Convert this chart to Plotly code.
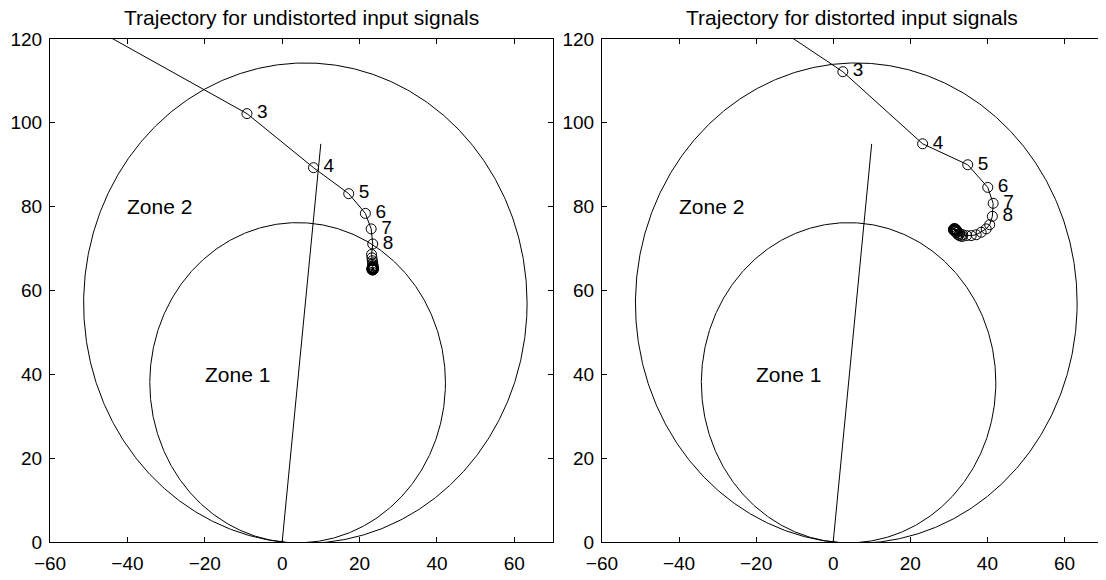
import numpy as np
import plotly.graph_objects as go

# ---------------- data ----------------
titles = ["Trajectory for undistorted input signals", "Trajectory for distorted input signals"]

# protected line impedance (magnitude, angle in degrees) and zone reach factors
line_mag = 95.5
line_ang_deg = 84.0
zone_reach = [0.8, 1.2]
zone_names = ["Zone 1", "Zone 2"]
zone_label_x = [-20, -40]
zone_label_y = [40, 80]

# trajectory: undistorted input signals (point 2 is off-chart)
traj1_x = [-80.0, -9.1, 8.1, 17.2, 21.5, 23.0, 23.4, 23.1, 23.2, 23.3, 23.4, 23.4, 23.5, 23.4,
           23.3, 23.5, 23.6, 23.4, 23.2, 23.3, 23.5, 23.6, 23.4, 23.3, 23.2, 23.4, 23.5, 23.6,
           23.5, 23.3, 23.2, 23.3, 23.4, 23.5, 23.4, 23.4]
traj1_y = [138.7, 102.2, 89.3, 83.1, 78.4, 74.7, 71.1, 68.6, 67.8, 67.1, 66.6, 66.2, 65.9, 65.7,
           65.5, 65.4, 65.3, 65.2, 65.3, 65.1, 65.0, 65.2, 65.4, 65.2, 65.0, 64.9, 65.1, 65.3,
           65.0, 64.9, 65.1, 65.3, 65.0, 65.1, 65.0, 65.1]

# trajectory: distorted input signals
traj2_x = [-40.0, 2.5, 23.2, 34.9, 40.1, 41.5, 41.3, 40.6, 39.7, 38.4, 37.1, 35.8, 34.6, 33.6,
           32.8, 32.2, 31.8, 31.6, 31.5, 31.6, 31.8, 32.0, 31.7, 31.5, 31.4, 31.5, 31.6, 31.5,
           32.3, 33.0, 33.5, 32.6, 31.9, 31.3, 31.2, 31.4, 31.7, 32.1, 31.6, 31.3, 31.5]
traj2_y = [138.3, 112.2, 95.0, 90.0, 84.6, 80.8, 77.7, 75.7, 74.7, 73.9, 73.3, 73.1, 73.1, 73.3,
           73.6, 73.9, 74.2, 74.4, 74.5, 74.6, 74.5, 74.4, 74.3, 74.4, 74.5, 74.4, 74.3, 74.4,
           73.4, 73.0, 72.9, 73.2, 73.8, 74.3, 74.6, 74.8, 74.7, 74.2, 74.5, 74.6, 74.4]

point_numbers = [2, 3, 4, 5, 6, 7, 8]  # sample indices of the first points
labelled = [3, 4, 5, 6, 7, 8]

x_ticks = [-60, -40, -20, 0, 20, 40, 60]
y_ticks = [0, 20, 40, 60, 80, 100, 120]

# ---------------- figure ----------------
FONT = "Liberation Sans, Arial, Helvetica, sans-serif"
fig = go.Figure()

ang = np.deg2rad(line_ang_deg)
zr_x = line_mag * np.cos(ang)
zr_y = line_mag * np.sin(ang)
theta = np.linspace(0, 2 * np.pi, 721)

trajs = [(traj1_x, traj1_y), (traj2_x, traj2_y)]
for i, (tx, ty) in enumerate(trajs):
    xa = "x" if i == 0 else "x2"
    ya = "y" if i == 0 else "y2"
    # zone circles (mho characteristics)
    for k in zone_reach:
        cx, cy = k * zr_x / 2, k * zr_y / 2
        r = k * line_mag / 2
        fig.add_trace(go.Scatter(x=cx + r * np.cos(theta), y=cy + r * np.sin(theta),
                                 mode="lines", line=dict(color="black", width=1),
                                 xaxis=xa, yaxis=ya, hoverinfo="skip", showlegend=False))
    # line impedance
    fig.add_trace(go.Scatter(x=[0, zr_x], y=[0, zr_y], mode="lines",
                             line=dict(color="black", width=1),
                             xaxis=xa, yaxis=ya, showlegend=False))
    # trajectory
    fig.add_trace(go.Scatter(x=tx, y=ty, mode="lines+markers",
                             line=dict(color="black", width=1),
                             marker=dict(symbol="circle-open", size=10, color="black",
                                         line=dict(width=1, color="black")),
                             xaxis=xa, yaxis=ya, showlegend=False))
    # numbers
    lx, ly, lt = [], [], []
    for n in labelled:
        j = point_numbers.index(n)
        lx.append(tx[j] + 2.6)
        ly.append(ty[j])
        lt.append(str(n))
    fig.add_trace(go.Scatter(x=lx, y=ly, text=lt, mode="text", textposition="middle right",
                             textfont=dict(family=FONT, size=19, color="black"),
                             xaxis=xa, yaxis=ya, showlegend=False))
    # zone labels
    for name, zx, zy in zip(zone_names, zone_label_x, zone_label_y):
        fig.add_annotation(x=zx, y=zy, xref=xa, yref=ya, text=name, showarrow=False,
                           xanchor="left", yanchor="middle", xshift=-2,
                           font=dict(family=FONT, size=21, color="black"))

# page body has an 8 px margin; compensate so the axes land where the reference has them
W, H = 1098, 572
ml, mr, mt, mb = 41, 2, 31, 38
pw = W - ml - mr
left_end = 553 - 8 - ml
right_start = 602 - 8 - ml
d1 = [0, left_end / pw]
d2 = [right_start / pw, 1]

axis_common = dict(showline=True, linecolor="black", linewidth=1, mirror="allticks",
                   ticks="inside", ticklen=5, tickcolor="black", tickwidth=1,
                   showgrid=False, zeroline=False,
                   tickfont=dict(family=FONT, size=19, color="black"))

fig.update_layout(
    width=W, height=H,
    margin=dict(l=ml, r=mr, t=mt, b=mb),
    paper_bgcolor="white", plot_bgcolor="white",
    xaxis=dict(domain=d1, range=[-60, 70], tickvals=x_ticks, anchor="y",
               ticklabelstandoff=4, **axis_common),
    yaxis=dict(domain=[0, 1], range=[0, 120], tickvals=y_ticks, anchor="x",
               ticklabelstandoff=3, **axis_common),
    xaxis2=dict(domain=d2, range=[-60, 70], tickvals=x_ticks, anchor="y2",
                ticklabelstandoff=4, **axis_common),
    yaxis2=dict(domain=[0, 1], range=[0, 120], tickvals=y_ticks, anchor="x2",
                ticklabelstandoff=3, **axis_common),
)

for dom, t in zip([d1, d2], titles):
    fig.add_annotation(x=(dom[0] + dom[1]) / 2, y=1 + (39 - 17) / (H - mt - mb),
                       xref="paper", yref="paper", text=t, showarrow=False,
                       xanchor="center", yanchor="middle",
                       font=dict(family=FONT, size=21, color="black"))

fig.write_html("out.html")
